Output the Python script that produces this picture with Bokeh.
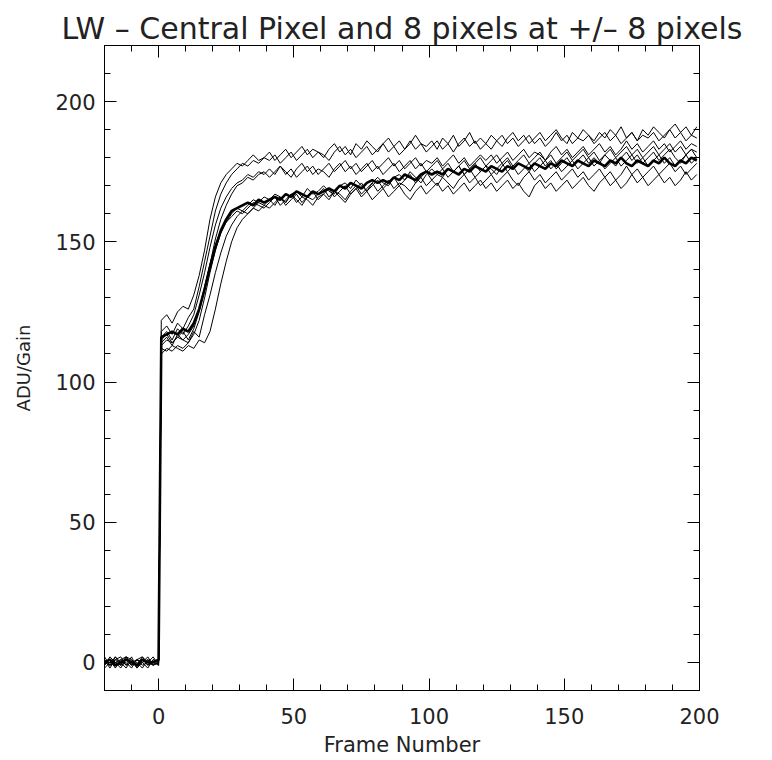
from bokeh.plotting import figure
from bokeh.models import Range1d, LinearAxis, SingleIntervalTicker, ColumnDataSource, CustomJSTickFormatter
from bokeh.embed import file_html
from bokeh.resources import INLINE

# Frame numbers (sampled every 2 frames; the jump happens between frame 0 and 1)
FRAMES = list(range(-20, 1, 2)) + list(range(1, 200, 2))

PRE_A = [1, -1, 2, 0, -2, 1, -1, 2, 0, -1, 0]
PRE_B = [-1, 2, 0, -2, 1, -1, 1, 0, 2, -1, 1]
PRE_C = [0, 1, -2, 1, 2, -1, 0, -2, 1, 0, -1]
PRE_D = [2, -1, 0, 1, -1, 2, -2, 0, 1, -1, 0]
PRE_CENTRAL = [0, 1, -1, 0, 1, 0, -1, 1, 0, 0, 1]
PRE_F = [-2, 0, 1, -1, 2, -1, 1, 0, -2, 1, 0]
PRE_G = [1, -2, 1, 2, -1, 0, 1, -1, 0, 2, -1]
PRE_H = [-1, 1, 0, -1, 2, 1, -2, 1, -1, 0, 1]
PRE_I = [0, -1, 2, -1, 0, -2, 1, 2, -1, 1, 0]

POST_A = [122, 124, 121, 125, 127, 126, 131, 138, 147, 158,
          166, 171, 174, 176, 178, 177, 179, 181, 179, 180,
          182, 179, 181, 183, 180, 182, 184, 181, 183, 182,
          180, 183, 185, 182, 184, 181, 185, 183, 186, 184,
          182, 185, 187, 184, 186, 183, 185, 188, 185, 184,
          186, 183, 187, 185, 188, 184, 186, 189, 185, 187,
          185, 188, 186, 184, 187, 189, 186, 188, 185, 187,
          189, 186, 188, 190, 187, 185, 189, 187, 190, 188,
          186, 189, 187, 190, 188, 191, 187, 189, 186, 190,
          188, 191, 189, 187, 190, 192, 189, 191, 188, 191]
POST_B = [118, 120, 117, 121, 119, 123, 126, 134, 143, 152,
          161, 167, 171, 174, 176, 178, 177, 179, 178, 180,
          179, 181, 178, 180, 182, 179, 181, 183, 180, 182,
          181, 179, 182, 184, 181, 183, 180, 182, 184, 181,
          183, 185, 182, 184, 181, 183, 186, 183, 185, 182,
          184, 186, 183, 185, 182, 185, 187, 184, 186, 183,
          185, 183, 186, 188, 185, 187, 184, 186, 188, 185,
          187, 184, 186, 189, 186, 188, 185, 187, 186, 188,
          185, 187, 189, 186, 188, 185, 187, 189, 186, 188,
          187, 189, 186, 188, 190, 187, 189, 186, 188, 187]
POST_C = [116, 118, 115, 119, 117, 120, 124, 131, 139, 148,
          156, 162, 166, 169, 171, 172, 174, 173, 175, 174,
          176, 174, 177, 175, 173, 176, 178, 175, 177, 174,
          176, 178, 175, 177, 179, 176, 178, 175, 177, 179,
          176, 178, 180, 177, 179, 176, 178, 180, 177, 179,
          178, 180, 177, 179, 181, 178, 180, 177, 179, 181,
          179, 181, 178, 180, 182, 179, 181, 183, 180, 182,
          181, 179, 182, 184, 181, 183, 180, 182, 184, 181,
          183, 185, 182, 184, 181, 183, 186, 183, 185, 182,
          184, 186, 183, 185, 182, 184, 186, 183, 185, 184]
POST_D = [115, 117, 114, 116, 118, 115, 119, 125, 133, 142,
          151, 158, 163, 167, 170, 171, 173, 172, 174, 175,
          173, 175, 177, 174, 176, 173, 175, 177, 174, 176,
          175, 173, 176, 178, 175, 177, 174, 176, 178, 175,
          177, 174, 176, 178, 175, 177, 179, 176, 178, 175,
          177, 179, 176, 178, 175, 177, 179, 176, 178, 180,
          177, 179, 181, 178, 180, 177, 179, 181, 178, 180,
          182, 179, 181, 178, 180, 182, 179, 181, 183, 180,
          182, 179, 181, 183, 180, 182, 184, 181, 183, 180,
          182, 184, 181, 183, 185, 182, 184, 181, 183, 182]
POST_CENTRAL = [116, 117, 118, 117, 119, 118, 121, 126, 133, 141,
                148, 154, 158, 161, 162, 163, 164, 163, 165, 164,
                165, 166, 165, 167, 166, 168, 167, 166, 168, 167,
                168, 169, 168, 170, 169, 171, 170, 169, 171, 172,
                171, 172, 171, 173, 172, 174, 173, 172, 174, 175,
                174, 175, 174, 176, 175, 174, 176, 175, 177, 176,
                175, 177, 176, 175, 177, 176, 178, 177, 176, 178,
                177, 176, 178, 177, 179, 178, 177, 179, 178, 177,
                179, 178, 177, 179, 178, 180, 178, 177, 179, 178,
                177, 179, 178, 180, 178, 177, 179, 178, 180, 179]
POST_F = [114, 116, 113, 117, 115, 114, 117, 122, 130, 139,
          147, 153, 157, 160, 162, 161, 163, 165, 164, 166,
          165, 167, 166, 164, 167, 168, 166, 169, 167, 168,
          170, 168, 167, 170, 171, 169, 172, 170, 168, 171,
          173, 171, 170, 173, 174, 172, 175, 173, 171, 174,
          176, 174, 173, 176, 175, 177, 174, 176, 178, 175,
          177, 176, 174, 177, 179, 176, 178, 177, 175, 178,
          180, 177, 179, 176, 178, 180, 177, 179, 181, 178,
          180, 178, 181, 179, 177, 180, 182, 179, 181, 178,
          180, 182, 179, 181, 183, 180, 178, 181, 183, 180]
POST_G = [112, 111, 113, 112, 111, 113, 112, 115, 114, 118,
          126, 135, 143, 150, 155, 158, 160, 162, 161, 163,
          165, 163, 166, 164, 167, 165, 163, 166, 168, 165,
          167, 169, 166, 168, 170, 167, 169, 171, 168, 170,
          172, 169, 171, 173, 170, 172, 174, 171, 173, 175,
          172, 174, 176, 173, 175, 177, 174, 176, 173, 175,
          177, 174, 176, 178, 175, 177, 174, 176, 178, 175,
          177, 179, 176, 178, 175, 177, 179, 176, 178, 180,
          177, 179, 176, 178, 180, 177, 179, 181, 178, 180,
          177, 179, 181, 178, 180, 177, 179, 181, 178, 180]
POST_H = [110, 112, 111, 113, 112, 114, 118, 116, 124, 131,
          139, 146, 152, 156, 159, 161, 160, 162, 164, 163,
          162, 164, 166, 163, 165, 167, 164, 166, 165, 167,
          169, 166, 168, 167, 165, 168, 170, 167, 169, 171,
          168, 170, 172, 169, 171, 170, 168, 171, 173, 170,
          172, 170, 173, 171, 169, 172, 174, 171, 173, 170,
          172, 174, 171, 173, 175, 172, 170, 173, 175, 172,
          174, 171, 173, 175, 172, 174, 176, 173, 175, 172,
          174, 176, 173, 175, 172, 174, 177, 174, 176, 173,
          175, 177, 174, 176, 178, 175, 177, 174, 176, 178]
POST_I = [113, 115, 114, 116, 115, 117, 120, 126, 134, 142,
          149, 154, 157, 159, 161, 160, 162, 164, 163, 162,
          164, 166, 163, 165, 167, 164, 166, 165, 163, 166,
          167, 165, 168, 166, 164, 167, 169, 166, 168, 165,
          167, 169, 166, 168, 170, 167, 165, 168, 170, 167,
          169, 171, 168, 170, 167, 169, 171, 168, 170, 172,
          169, 171, 168, 170, 172, 169, 171, 168, 166, 170,
          172, 169, 171, 168, 170, 172, 169, 171, 173, 170,
          168, 171, 173, 170, 172, 169, 171, 174, 171, 173,
          170, 172, 174, 171, 173, 170, 172, 175, 172, 174]

NEIGHBOURS = [(PRE_A, POST_A), (PRE_B, POST_B), (PRE_C, POST_C), (PRE_D, POST_D),
              (PRE_F, POST_F), (PRE_G, POST_G), (PRE_H, POST_H), (PRE_I, POST_I)]
CENTRAL = (PRE_CENTRAL, POST_CENTRAL)

TITLE = "LW \u2013 Central Pixel and 8 pixels at +/\u2013 8 pixels"
X_LABEL = "Frame Number"
Y_LABEL = "ADU/Gain"

FONT = "DejaVu Sans"
TXT = "#222222"

p = figure(frame_width=595, frame_height=645,
           min_border_left=104, min_border_right=73, min_border_top=45, min_border_bottom=70,
           x_range=Range1d(-20, 200), y_range=Range1d(-10, 220),
           output_backend="svg", toolbar_location=None,
           x_axis_type=None, y_axis_type=None)
p.grid.visible = False
p.outline_line_color = "black"
p.background_fill_color = "white"
p.border_fill_color = "white"

p.title.text = TITLE
p.title.text_font = FONT
p.title.text_font_size = "30px"
p.title.text_font_style = "normal"
p.title.text_color = TXT
p.title.align = "center"
p.title.standoff = 0
p.title.offset = 0


def style_axis(ax, show_labels):
    ax.axis_line_color = "black"
    ax.axis_line_width = 1
    ax.major_tick_in = 12
    ax.major_tick_out = 0
    ax.minor_tick_in = 6
    ax.minor_tick_out = 0
    ax.major_tick_line_color = "black"
    ax.minor_tick_line_color = "black"
    ax.major_label_text_font = FONT
    ax.major_label_text_color = TXT
    ax.major_label_text_font_size = "21px"
    if not show_labels:
        ax.formatter = CustomJSTickFormatter(code="return '';")
        ax.major_label_standoff = 0


xt = SingleIntervalTicker(interval=50, num_minor_ticks=5)
yt = SingleIntervalTicker(interval=50, num_minor_ticks=5)

xb = LinearAxis(ticker=xt, axis_label=X_LABEL)
style_axis(xb, True)
xb.major_label_standoff = 17
xb.axis_label_standoff = 6
xb.axis_label_text_font = FONT
xb.axis_label_text_font_size = "21px"
xb.axis_label_text_font_style = "normal"
xb.axis_label_text_color = TXT
p.add_layout(xb, "below")

yl = LinearAxis(ticker=yt, axis_label=Y_LABEL)
style_axis(yl, True)
yl.major_label_standoff = 9
yl.axis_label_standoff = 18
yl.axis_label_text_font = FONT
yl.axis_label_text_font_size = "18px"
yl.axis_label_text_font_style = "normal"
yl.axis_label_text_color = TXT
p.add_layout(yl, "left")

xtop = LinearAxis(ticker=SingleIntervalTicker(interval=50, num_minor_ticks=5))
style_axis(xtop, False)
p.add_layout(xtop, "above")

yr = LinearAxis(ticker=SingleIntervalTicker(interval=50, num_minor_ticks=5))
style_axis(yr, False)
p.add_layout(yr, "right")

for pre, post in NEIGHBOURS:
    src = ColumnDataSource(dict(x=FRAMES, y=pre + post))
    p.line("x", "y", source=src, line_color="black", line_width=1)

src_c = ColumnDataSource(dict(x=FRAMES, y=CENTRAL[0] + CENTRAL[1]))
p.line("x", "y", source=src_c, line_color="black", line_width=2.6)

open("out.html", "w").write(file_html(p, INLINE))
